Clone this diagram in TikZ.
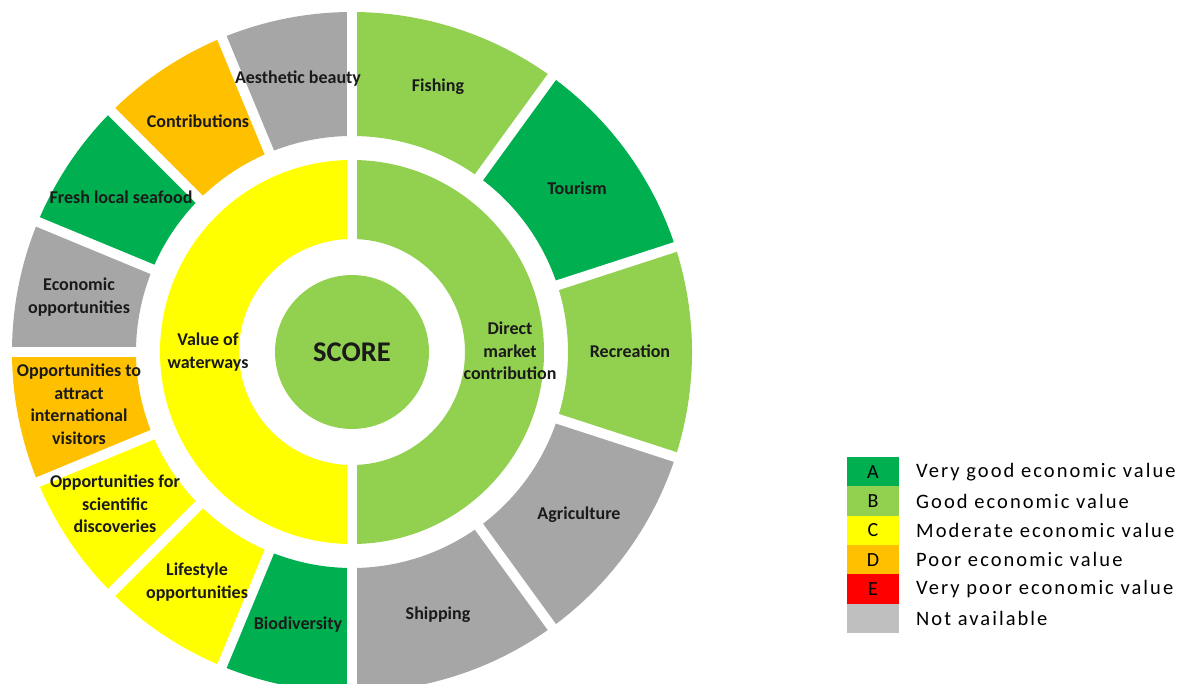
\documentclass[tikz,border=0pt]{standalone}
\usepackage{fontspec}
\setmainfont{Carlito}
\newfontfamily\legfont[LetterSpace=10]{Carlito}
\definecolor{cA}{HTML}{00B050}
\definecolor{cB}{HTML}{92D050}
\definecolor{cC}{HTML}{FFFF00}
\definecolor{cD}{HTML}{FFC000}
\definecolor{cE}{HTML}{FF0000}
\definecolor{cN}{HTML}{A6A6A6}
\definecolor{cNL}{HTML}{BFBFBF}
\definecolor{labtxt}{HTML}{1A1A1A}
\tikzset{
  lab/.style={font=\bfseries\fontsize{18}{22.5}\selectfont, align=center, text=labtxt, inner sep=0pt},
  gapline/.style={white, line width=10pt},
  legbox/.style={minimum width=52pt, minimum height=29.33pt, inner sep=0pt, font=\fontsize{20}{24}\selectfont},
  legtxt/.style={anchor=west, inner sep=0pt, font=\legfont\fontsize{20.5}{24}\selectfont}
}
\newcommand{\sector}[5]{% color, a1, a2, rin, rout
  \fill[#1] (#2:#4) -- (#2:#5) arc[start angle=#2, end angle=#3, radius=#5] -- (#3:#4) arc[start angle=#3, end angle=#2, radius=#4] -- cycle;}
\begin{document}
\begin{tikzpicture}[x=1pt, y=-1pt]
\useasboundingbox (0,0) rectangle (1185,684);
\clip (0,0) rectangle (1185,684);
\begin{scope}[shift={(352,352)}, yscale=-1]
  % centre
  \fill[cB] (0,0) circle[radius=77];
  % inner ring
  \sector{cC}{90}{270}{113}{192}
  \sector{cB}{-90}{90}{113}{192}
  % outer ring, right half
  \sector{cB}{54}{90}{216}{340}
  \sector{cA}{18}{54}{216}{340}
  \sector{cB}{-18}{18}{216}{340}
  \sector{cN}{-54}{-18}{216}{340}
  \sector{cN}{-90}{-54}{216}{340}
  % outer ring, left half
  \sector{cN}{90}{112.5}{216}{340}
  \sector{cD}{112.5}{135}{216}{340}
  \sector{cA}{135}{157.5}{216}{340}
  \sector{cN}{157.5}{180}{216}{340}
  \sector{cD}{180}{202.5}{216}{340}
  \sector{cC}{202.5}{225}{216}{340}
  \sector{cC}{225}{247.5}{216}{340}
  \sector{cA}{247.5}{270}{216}{340}
  % white gaps
  \foreach \a in {54,18,-18,-54,112.5,135,157.5,180,202.5,225,247.5}
    \draw[gapline] (\a:200) -- (\a:350);
  \draw[gapline] (90:100) -- (90:350);
  \draw[gapline] (270:100) -- (270:350);
\end{scope}
% labels
\node[lab, font=\bfseries\fontsize{28.5}{30}\selectfont] (score) at (352,352) {SCORE};
\node[lab] (vw) at (208,352) {Value of\\waterways};
\node[lab] (dmc) at (510,351) {Direct\\market\\contribution};
\node[lab] (fish) at (438,87) {Fishing};
\node[lab] (tour) at (577,188) {Tourism};
\node[lab] (rec) at (630,351) {Recreation};
\node[lab] (agr) at (579,515) {Agriculture};
\node[lab] (ship) at (438,615) {Shipping};
\node[lab] (aes) at (298,79) {Aesthetic beauty};
\node[lab] (con) at (198,121) {Contributions};
\node[lab] (fls) at (121,197) {Fresh local seafood};
\node[lab] (eco) at (79,297) {Economic\\opportunities};
\node[lab] (att) at (79,404) {Opportunities to\\attract\\international\\visitors};
\node[lab] (sci) at (115,504) {Opportunities for\\scientific\\discoveries};
\node[lab] (life) at (197,582) {Lifestyle\\opportunities};
\node[lab] (bio) at (298,625) {Biodiversity};
% legend
\node[legbox, fill=cA] (lA) at (873,471.7) {A};
\node[legbox, fill=cB] (lB) at (873,501.0) {B};
\node[legbox, fill=cC] (lC) at (873,530.3) {C};
\node[legbox, fill=cD] (lD) at (873,559.7) {D};
\node[legbox, fill=cE] (lE) at (873,589.0) {E};
\node[legbox, fill=cNL] (lN) at (873,618.3) {};
\node[legtxt] (tA) at (916,471.7) {Very good economic value};
\node[legtxt] (tB) at (916,501.0) {Good economic value};
\node[legtxt] (tC) at (916,530.3) {Moderate economic value};
\node[legtxt] (tD) at (916,559.7) {Poor economic value};
\node[legtxt] (tE) at (916,589.0) {Very poor economic value};
\node[legtxt] (tN) at (916,618.3) {Not available};
\end{tikzpicture}
\end{document}
